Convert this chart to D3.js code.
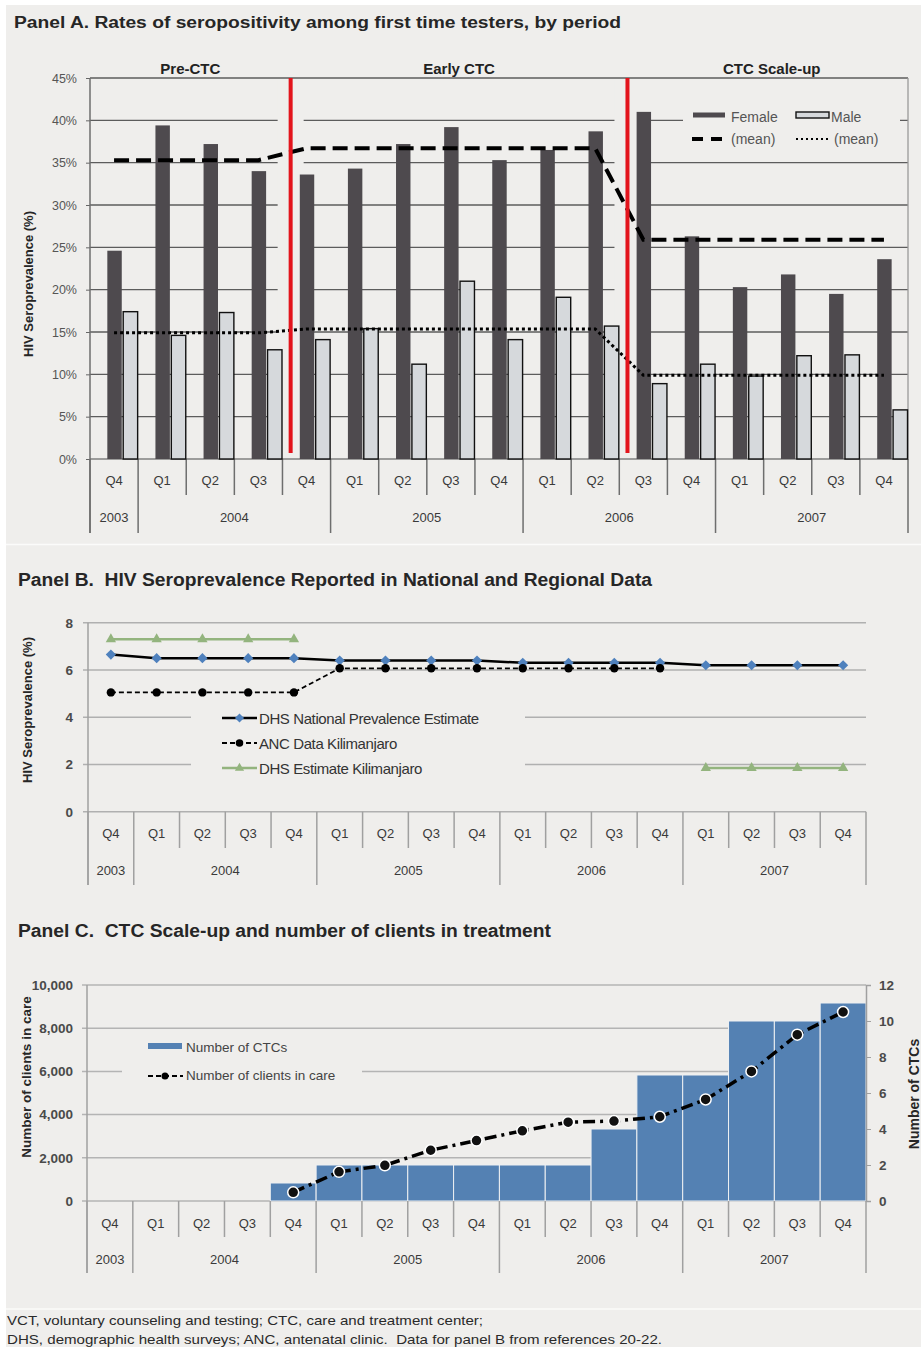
<!DOCTYPE html>
<html>
<head>
<meta charset="utf-8">
<script src="https://cdnjs.cloudflare.com/ajax/libs/d3/7.8.5/d3.min.js" type="text/javascript"></script>
<style>
body { margin: 0; background: #fff; }
text { font-family: "Liberation Sans", Arial, sans-serif; }
</style>
</head>
<body>
<div id="chart"></div>
<script type="text/javascript">
// quarters shared by all three panels
var periods = ["2003 Q4", "2004 Q1", "2004 Q2", "2004 Q3", "2004 Q4", "2005 Q1", "2005 Q2", "2005 Q3", "2005 Q4",
	"2006 Q1", "2006 Q2", "2006 Q3", "2006 Q4", "2007 Q1", "2007 Q2", "2007 Q3", "2007 Q4"];
var years = ["2003", "2004", "2005", "2006", "2007"];

// Panel A: seropositivity among first time testers (%)
var femaleRate = [24.6, 39.4, 37.2, 34.0, 33.6, 34.3, 37.2, 39.2, 35.3, 36.5, 38.7, 41.0, 26.3, 20.3, 21.8, 19.5, 23.6];
var maleRate = [17.4, 14.6, 17.3, 12.9, 14.1, 15.4, 11.2, 21.0, 14.1, 19.1, 15.7, 8.9, 11.2, 9.8, 12.2, 12.3, 5.8];
var phaseNames = ["Pre-CTC", "Early CTC", "CTC Scale-up"];
var phaseStart = ["2003 Q4", "2004 Q4", "2006 Q3"];
var femaleMean = [35.3, 36.7, 25.9];
var maleMean = [14.9, 15.35, 9.9];
var pctTicks = [0, 5, 10, 15, 20, 25, 30, 35, 40, 45];

// Panel B: reported HIV seroprevalence (%)
var dhsNational = [6.65, 6.5, 6.5, 6.5, 6.5, 6.4, 6.4, 6.4, 6.4, 6.3, 6.3, 6.3, 6.3, 6.2, 6.2, 6.2, 6.2];
var ancKilimanjaro = [5.05, 5.05, 5.05, 5.05, 5.05, 6.07, 6.07, 6.07, 6.07, 6.07, 6.07, 6.07, 6.07, null, null, null, null];
var dhsKilimanjaro = [7.3, 7.3, 7.3, 7.3, 7.3, null, null, null, null, null, null, null, null, 1.85, 1.85, 1.85, 1.85];
var prevTicks = [0, 2, 4, 6, 8];

// Panel C: CTCs and clients in care
var ctcCount = [0, 0, 0, 0, 1, 2, 2, 2, 2, 2, 2, 4, 7, 7, 10, 10, 11];
var clientsInCare = [null, null, null, null, 400, 1350, 1650, 2350, 2800, 3250, 3650, 3700, 3900, 4700, 6000, 7700, 8750];
var clientTicks = [0, 2000, 4000, 6000, 8000, 10000];
var ctcTicks = [0, 2, 4, 6, 8, 10, 12];

var bg = "#efeeec";

var svg = d3.select("#chart")
	.append("svg")
	.attr("width", 921)
	.attr("height", 1347);

svg.append("rect")
	.attr("x", 6).attr("y", 5)
	.attr("width", 915).attr("height", 1342)
	.attr("fill", bg);
[544.5, 1309].forEach(function(y) {
	svg.append("line")
		.attr("x1", 6).attr("x2", 921).attr("y1", y).attr("y2", y)
		.attr("stroke", "#fbfbfa").attr("stroke-width", 1.5);
});

function quarterOf(p) { return p.split(" ")[1]; }
function yearOf(p) { return p.split(" ")[0]; }

function title(text, x, y, size, len) {
	svg.append("text")
		.attr("x", x).attr("y", y)
		.attr("font-size", size)
		.attr("font-weight", "bold")
		.attr("fill", "#262626")
		.attr("textLength", len)
		.attr("lengthAdjust", "spacingAndGlyphs")
		.style("white-space", "pre")
		.text(text);
}

// two-row category axis: quarters on top, years below
function categoryAxis(x, y0, qBase, yBase, shortEnd, longEnd, color) {
	var g = svg.append("g");
	var qAxis = g.append("g")
		.attr("transform", "translate(0," + qBase + ")")
		.call(d3.axisBottom(x).tickSize(0).tickPadding(0).tickFormat(quarterOf));
	qAxis.select(".domain").remove();
	qAxis.selectAll("text")
		.attr("y", 0).attr("dy", null)
		.attr("font-size", 13)
		.attr("font-family", "Liberation Sans, Arial, sans-serif")
		.attr("fill", "#3a3a3a");

	var edges = periods.map(function(p) { return x(p); }).concat([x.range()[1]]);
	g.selectAll(".divider")
		.data(edges)
		.enter()
		.append("line")
		.attr("class", "divider")
		.attr("x1", function(d) { return d; })
		.attr("x2", function(d) { return d; })
		.attr("y1", y0)
		.attr("y2", function(d, i) {
			var isYear = i == 0 || i == periods.length || quarterOf(periods[i]) == "Q1";
			return isYear ? longEnd : shortEnd;
		})
		.attr("stroke", color)
		.attr("stroke-width", 1.5);

	g.selectAll(".year")
		.data(years)
		.enter()
		.append("text")
		.attr("class", "year")
		.attr("x", function(yr) {
			var inYear = periods.filter(function(p) { return yearOf(p) == yr; });
			return (x(inYear[0]) + x(inYear[inYear.length - 1]) + x.bandwidth()) / 2;
		})
		.attr("y", yBase)
		.attr("text-anchor", "middle")
		.attr("font-size", 13)
		.attr("fill", "#3a3a3a")
		.text(function(d) { return d; });
}

function yTitle(text, x, y, size) {
	svg.append("text")
		.attr("transform", "translate(" + x + "," + y + ") rotate(-90)")
		.attr("text-anchor", "middle")
		.attr("font-size", size)
		.attr("font-weight", "bold")
		.attr("fill", "#262626")
		.text(text);
}

// ---------------- Panel A ----------------
title("Panel A. Rates of seropositivity among first time testers, by period", 14, 28, 16, 607);

var xA = d3.scaleBand().domain(periods).range([90, 908]);
var yA = d3.scaleLinear().domain([0, 45]).range([459, 78]);
var bwA = xA.bandwidth();

function phaseIndex(i) {
	var k = 0;
	phaseStart.forEach(function(p, j) { if (periods.indexOf(p) <= i) k = j; });
	return k;
}
var redX = phaseStart.slice(1).map(function(p) { return xA(p) + bwA * 0.17; });

// gridlines
svg.append("g").selectAll("line")
	.data(pctTicks)
	.enter()
	.append("line")
	.attr("x1", 90).attr("x2", 908)
	.attr("y1", function(d) { return yA(d); })
	.attr("y2", function(d) { return yA(d); })
	.attr("stroke", function(d) { return d == 0 ? "#808080" : "#5c5c5c"; })
	.attr("stroke-width", 1.3);
svg.append("line")
	.attr("x1", 908).attr("x2", 908).attr("y1", yA(45)).attr("y2", yA(0))
	.attr("stroke", "#9a9a9a").attr("stroke-width", 1.3);

// gridline gaps around the period separators and the legend
redX.forEach(function(rx) {
	svg.append("rect")
		.attr("x", rx - 13).attr("y", yA(45) + 2)
		.attr("width", 26).attr("height", yA(0) - yA(45) - 4)
		.attr("fill", bg);
});
svg.append("rect")
	.attr("x", 683).attr("y", 100).attr("width", 217).attr("height", 52)
	.attr("fill", bg);

svg.append("g")
	.attr("transform", "translate(90,0)")
	.call(d3.axisLeft(yA).tickValues(pctTicks).tickSize(4).tickPadding(9)
		.tickFormat(function(d) { return d + "%"; }))
	.call(function(g) {
		g.select(".domain").remove();
		g.selectAll("line").attr("stroke", "#666");
		g.selectAll("text")
			.attr("font-size", 12.5)
			.attr("font-family", "Liberation Sans, Arial, sans-serif")
			.attr("fill", "#555");
	});
svg.append("line")
	.attr("x1", 90).attr("x2", 90).attr("y1", yA(45)).attr("y2", 533)
	.attr("stroke", "#6e6e6e").attr("stroke-width", 1.5);

categoryAxis(xA, yA(0), 485, 522, 495, 533, "#6e6e6e");
yTitle("HIV Seroprevalence (%)", 33, 284, 13);

// bars
var barsA = svg.append("g").selectAll(".pair")
	.data(periods)
	.enter()
	.append("g")
	.attr("class", "pair");
barsA.append("rect")
	.attr("x", function(d) { return xA(d) + bwA * 0.36; })
	.attr("y", function(d, i) { return yA(femaleRate[i]); })
	.attr("width", bwA * 0.30)
	.attr("height", function(d, i) { return yA(0) - yA(femaleRate[i]); })
	.attr("fill", "#4e4a4e");
barsA.append("rect")
	.attr("x", function(d) { return xA(d) + bwA * 0.69; })
	.attr("y", function(d, i) { return yA(maleRate[i]); })
	.attr("width", bwA * 0.30)
	.attr("height", function(d, i) { return yA(0) - yA(maleRate[i]); })
	.attr("fill", "#d6d9dc")
	.attr("stroke", "#111")
	.attr("stroke-width", 1.4);

// period means
var meanLine = d3.line()
	.x(function(d) { return xA(d.p) + bwA / 2; })
	.y(function(d) { return yA(d.v); });
var femaleMeanPts = periods.map(function(p, i) { return { p: p, v: femaleMean[phaseIndex(i)] }; });
var maleMeanPts = periods.map(function(p, i) { return { p: p, v: maleMean[phaseIndex(i)] }; });
svg.append("path")
	.attr("d", meanLine(femaleMeanPts))
	.attr("fill", "none")
	.attr("stroke", "#000")
	.attr("stroke-width", 4)
	.attr("stroke-dasharray", "15,7");
svg.append("path")
	.attr("d", meanLine(maleMeanPts))
	.attr("fill", "none")
	.attr("stroke", "#000")
	.attr("stroke-width", 3)
	.attr("stroke-dasharray", "3,3");

// period separators and labels
redX.forEach(function(rx) {
	svg.append("line")
		.attr("x1", rx).attr("x2", rx)
		.attr("y1", yA(45)).attr("y2", yA(0) - 6)
		.attr("stroke", "#e3141c").attr("stroke-width", 4);
});
var phaseEdges = [90].concat(redX).concat([908]);
svg.selectAll(".phase")
	.data(phaseNames)
	.enter()
	.append("text")
	.attr("class", "phase")
	.attr("x", function(d, i) { return (phaseEdges[i] + phaseEdges[i + 1]) / 2 + (i == 2 ? 4 : 0); })
	.attr("y", 74)
	.attr("text-anchor", "middle")
	.attr("font-family", "Lato, sans-serif")
	.attr("font-weight", "bold")
	.attr("font-size", 15)
	.attr("fill", "#222")
	.text(function(d) { return d; });

// legend A
var legA = svg.append("g").attr("font-size", 14).attr("fill", "#555");
legA.append("rect").attr("x", 693).attr("y", 112.5).attr("width", 32).attr("height", 5).attr("fill", "#4e4a4e");
legA.append("text").attr("x", 731).attr("y", 121.5).text("Female");
legA.append("rect").attr("x", 796).attr("y", 112).attr("width", 33).attr("height", 6)
	.attr("fill", "#d6d9dc").attr("stroke", "#111").attr("stroke-width", 1.4);
legA.append("text").attr("x", 831).attr("y", 121.5).text("Male");
legA.append("line").attr("x1", 692).attr("x2", 726).attr("y1", 139).attr("y2", 139)
	.attr("stroke", "#000").attr("stroke-width", 4).attr("stroke-dasharray", "11,8");
legA.append("text").attr("x", 731).attr("y", 144).text("(mean)");
legA.append("line").attr("x1", 796).attr("x2", 829).attr("y1", 139).attr("y2", 139)
	.attr("stroke", "#000").attr("stroke-width", 2).attr("stroke-dasharray", "2,3");
legA.append("text").attr("x", 834).attr("y", 144).text("(mean)");

// ---------------- Panel B ----------------
title("Panel B.  HIV Seroprevalence Reported in National and Regional Data", 18, 586, 18, 634);

var xB = d3.scaleBand().domain(periods).range([88, 866]);
var yB = d3.scaleLinear().domain([0, 8]).range([811.7, 622.7]);
var bwB = xB.bandwidth();

svg.append("g").selectAll("line")
	.data(prevTicks)
	.enter()
	.append("line")
	.attr("x1", 83).attr("x2", 866)
	.attr("y1", function(d) { return yB(d); })
	.attr("y2", function(d) { return yB(d); })
	.attr("stroke", "#b0b0b0")
	.attr("stroke-width", 1.5);
svg.append("rect")
	.attr("x", 191).attr("y", 695).attr("width", 334).attr("height", 90)
	.attr("fill", bg);

svg.append("g")
	.attr("transform", "translate(88,0)")
	.call(d3.axisLeft(yB).tickValues(prevTicks).tickSize(0).tickPadding(15))
	.call(function(g) {
		g.select(".domain").remove();
		g.selectAll("text")
			.attr("font-size", 13.5)
			.attr("font-weight", "bold")
			.attr("font-family", "Liberation Sans, Arial, sans-serif")
			.attr("fill", "#4a4a4a");
	});
svg.append("line")
	.attr("x1", 88).attr("x2", 88).attr("y1", yB(8)).attr("y2", 885)
	.attr("stroke", "#a0a0a0").attr("stroke-width", 1.5);

categoryAxis(xB, yB(0), 838, 875, 848, 885, "#a0a0a0");
yTitle("HIV Seroprevalence (%)", 32, 710, 13);

var lineB = d3.line()
	.defined(function(d) { return d.v != null; })
	.x(function(d) { return xB(d.p) + bwB / 2; })
	.y(function(d) { return yB(d.v); });
function pts(values) { return periods.map(function(p, i) { return { p: p, v: values[i] }; }); }

var seriesB = [
	{ name: "DHS National Prevalence Estimate", values: dhsNational, stroke: "#000", width: 2.5, dash: null,
		symbol: d3.symbolSquare, size: 52, rotate: 45, fill: "#4f81bd" },
	{ name: "ANC Data Kilimanjaro", values: ancKilimanjaro, stroke: "#000", width: 1.8, dash: "5,3",
		symbol: d3.symbolCircle, size: 56, rotate: 0, fill: "#000" },
	{ name: "DHS Estimate Kilimanjaro", values: dhsKilimanjaro, stroke: "#93b47e", width: 2.5, dash: null,
		symbol: d3.symbolTriangle, size: 46, rotate: 0, fill: "#93b47e" }
];

seriesB.forEach(function(s, k) {
	svg.append("path")
		.attr("d", lineB(pts(s.values)))
		.attr("fill", "none")
		.attr("stroke", s.stroke)
		.attr("stroke-width", s.width)
		.attr("stroke-dasharray", s.dash);
	svg.append("g").selectAll("path")
		.data(pts(s.values).filter(function(d) { return d.v != null; }))
		.enter()
		.append("path")
		.attr("d", d3.symbol(s.symbol, s.size))
		.attr("transform", function(d) {
			return "translate(" + (xB(d.p) + bwB / 2) + "," + yB(d.v) + ") rotate(" + s.rotate + ")";
		})
		.attr("fill", s.fill);

	// legend row
	var ly = 718 + k * 25;
	svg.append("line")
		.attr("x1", 222).attr("x2", 257).attr("y1", ly).attr("y2", ly)
		.attr("stroke", s.stroke).attr("stroke-width", s.width)
		.attr("stroke-dasharray", s.dash);
	svg.append("path")
		.attr("d", d3.symbol(s.symbol, s.size * 0.8))
		.attr("transform", "translate(239.5," + ly + ") rotate(" + s.rotate + ")")
		.attr("fill", s.fill);
	svg.append("text")
		.attr("x", 259).attr("y", ly + 6)
		.attr("font-size", 15)
		.attr("letter-spacing", -0.4)
		.attr("fill", "#333")
		.text(s.name);
});

// ---------------- Panel C ----------------
title("Panel C.  CTC Scale-up and number of clients in treatment", 18, 937, 18, 533);

var xC = d3.scaleBand().domain(periods).range([87, 866]);
var yC = d3.scaleLinear().domain([0, 10000]).range([1201, 985]);
var yR = d3.scaleLinear().domain([0, 12]).range([1201, 985]);
var bwC = xC.bandwidth();

svg.append("g").selectAll("line")
	.data(clientTicks)
	.enter()
	.append("line")
	.attr("x1", 82).attr("x2", 866)
	.attr("y1", function(d) { return yC(d); })
	.attr("y2", function(d) { return yC(d); })
	.attr("stroke", "#b4b4b4")
	.attr("stroke-width", 1.5);
svg.append("rect")
	.attr("x", 122).attr("y", 1036).attr("width", 240).attr("height", 52)
	.attr("fill", bg);

svg.append("g").selectAll("rect")
	.data(periods)
	.enter()
	.append("rect")
	.attr("x", function(d) { return xC(d); })
	.attr("y", function(d, i) { return yR(ctcCount[i]); })
	.attr("width", bwC)
	.attr("height", function(d, i) { return yR(0) - yR(ctcCount[i]); })
	.attr("fill", "#5481b3")
	.attr("stroke", function(d, i) { return ctcCount[i] > 0 ? "#eef0f2" : "none"; })
	.attr("stroke-width", 1);

svg.append("g")
	.attr("transform", "translate(87,0)")
	.call(d3.axisLeft(yC).tickValues(clientTicks).tickSize(0).tickPadding(14).tickFormat(d3.format(",")))
	.call(function(g) {
		g.select(".domain").remove();
		g.selectAll("text")
			.attr("font-size", 13.5)
			.attr("font-weight", "bold")
			.attr("font-family", "Liberation Sans, Arial, sans-serif")
			.attr("fill", "#4a4a4a");
	});
svg.append("g")
	.attr("transform", "translate(866,0)")
	.call(d3.axisRight(yR).tickValues(ctcTicks).tickSize(5).tickPadding(8))
	.call(function(g) {
		g.select(".domain").attr("stroke", "#a0a0a0").attr("stroke-width", 1.5);
		g.selectAll("line").attr("stroke", "#a0a0a0");
		g.selectAll("text")
			.attr("font-size", 13.5)
			.attr("font-weight", "bold")
			.attr("font-family", "Liberation Sans, Arial, sans-serif")
			.attr("fill", "#4a4a4a");
	});
svg.append("line")
	.attr("x1", 87).attr("x2", 87).attr("y1", yC(10000)).attr("y2", 1273)
	.attr("stroke", "#a0a0a0").attr("stroke-width", 1.5);

categoryAxis(xC, yC(0), 1228, 1264, 1237, 1273, "#a0a0a0");
yTitle("Number of clients in care", 31, 1077, 13.5);
yTitle("Number of CTCs", 919, 1094, 14);

var lineC = d3.line()
	.defined(function(d) { return d.v != null; })
	.x(function(d) { return xC(d.p) + bwC / 2; })
	.y(function(d) { return yC(d.v); });
svg.append("path")
	.attr("d", lineC(pts(clientsInCare)))
	.attr("fill", "none")
	.attr("stroke", "#000")
	.attr("stroke-width", 3.5)
	.attr("stroke-dasharray", "12,5,3,5");
svg.append("g").selectAll("circle")
	.data(pts(clientsInCare).filter(function(d) { return d.v != null; }))
	.enter()
	.append("circle")
	.attr("cx", function(d) { return xC(d.p) + bwC / 2; })
	.attr("cy", function(d) { return yC(d.v); })
	.attr("r", 5.5)
	.attr("fill", "#111")
	.attr("stroke", "#fff")
	.attr("stroke-width", 1.5);

// legend C
var legC = svg.append("g").attr("font-size", 13.5).attr("fill", "#444");
legC.append("rect").attr("x", 148).attr("y", 1043).attr("width", 34).attr("height", 6).attr("fill", "#5481b3");
legC.append("text").attr("x", 186).attr("y", 1052).text("Number of CTCs");
legC.append("line").attr("x1", 148).attr("x2", 183).attr("y1", 1076).attr("y2", 1076)
	.attr("stroke", "#000").attr("stroke-width", 2).attr("stroke-dasharray", "5,3");
legC.append("circle").attr("cx", 165).attr("cy", 1076).attr("r", 3.5).attr("fill", "#000");
legC.append("text").attr("x", 186).attr("y", 1080).text("Number of clients in care");

// footer
var notes = ["VCT, voluntary counseling and testing; CTC, care and treatment center;",
	"DHS, demographic health surveys; ANC, antenatal clinic.  Data for panel B from references 20-22."];
var noteLen = [476, 655];
svg.selectAll(".note")
	.data(notes)
	.enter()
	.append("text")
	.attr("class", "note")
	.attr("x", 7)
	.attr("y", function(d, i) { return 1325 + i * 19; })
	.attr("font-size", 13)
	.attr("fill", "#2a2a2a")
	.attr("textLength", function(d, i) { return noteLen[i]; })
	.attr("lengthAdjust", "spacingAndGlyphs")
	.style("white-space", "pre")
	.text(function(d) { return d; });
</script>
</body>
</html>
